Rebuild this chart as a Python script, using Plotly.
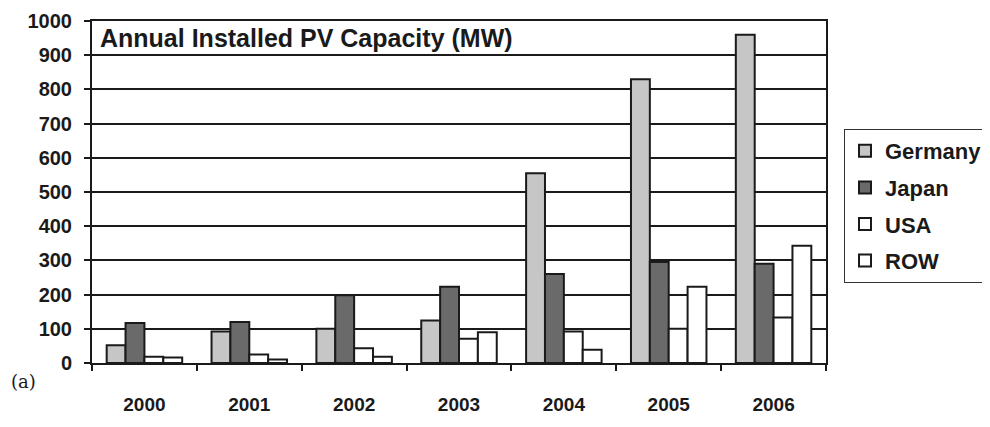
import plotly.graph_objects as go

years = ["2000", "2001", "2002", "2003", "2004", "2005", "2006"]
germany = [52, 92, 100, 124, 555, 830, 960]
japan = [117, 120, 198, 223, 260, 295, 290]
usa = [18, 25, 43, 71, 92, 100, 133]
row = [16, 10, 18, 90, 39, 223, 343]
y_ticks = [0, 100, 200, 300, 400, 500, 600, 700, 800, 900, 1000]

series = [
    ("Germany", germany, "#c6c6c6"),
    ("Japan", japan, "#6a6a6a"),
    ("USA", usa, "#ffffff"),
    ("ROW", row, "#ffffff"),
]

FONT = "Liberation Sans, Arial, sans-serif"
INK = "#1a1a1a"

fig = go.Figure()
for name, vals, col in series:
    fig.add_trace(go.Bar(
        x=years, y=vals, name=name, legendgroup=name,
        marker=dict(color=col, line=dict(color=INK, width=2)),
    ))

# page body has an 8px margin; figure spans 8..990 x 8..427
W, H = 982, 419
L, R, T, B = 84, 164, 13, 64
pw, ph = W - L - R, H - T - B

fig.update_layout(
    width=W, height=H,
    margin=dict(l=L, r=R, t=T, b=B, autoexpand=False),
    paper_bgcolor="white", plot_bgcolor="white",
    barmode="group", bargap=0.28, bargroupgap=0,
    font=dict(family=FONT, color=INK),
    showlegend=True,
    legend=dict(
        xref="container", yref="container",
        x=(844 - 8) / W, y=1 - (206 - 8) / H, xanchor="left", yanchor="middle",
        bordercolor="#333333", borderwidth=1, bgcolor="white",
        font=dict(size=22, color=INK, family=FONT, weight="bold"),
        tracegroupgap=5,
    ),
    xaxis=dict(
        type="category", showline=True, linecolor=INK, linewidth=2,
        mirror=True, ticks="outside", tickson="boundaries", ticklen=6,
        tickcolor=INK, tickwidth=1.5,
        tickfont=dict(size=19, weight="bold"),
        ticklabelstandoff=23,
        showgrid=False,
    ),
    yaxis=dict(
        range=[0, 1000], tickvals=y_ticks, ticktext=[str(v) for v in y_ticks],
        showline=True, linecolor=INK, linewidth=2, mirror=True,
        ticks="outside", ticklen=6, tickcolor=INK, tickwidth=1.5,
        showgrid=True, gridcolor=INK, gridwidth=1.5,
        tickfont=dict(size=20, weight="bold"),
        ticklabelstandoff=8, ticklabeloverflow="allow",
        zeroline=False,
    ),
    annotations=[
        dict(text="Annual Installed PV Capacity (MW)", x=0.008, y=(363 - 38) / ph,
             xref="paper", yref="paper", xanchor="left", yanchor="middle",
             showarrow=False, font=dict(size=25, weight="bold", color=INK)),
        dict(text="(a)", x=(23 - 92) / pw, y=(363 - 381) / ph, xref="paper", yref="paper",
             xanchor="center", yanchor="middle", showarrow=False,
             font=dict(family="DejaVu Serif, Liberation Serif, serif", size=18, color=INK)),
    ],
)

fig.write_html("out.html")
